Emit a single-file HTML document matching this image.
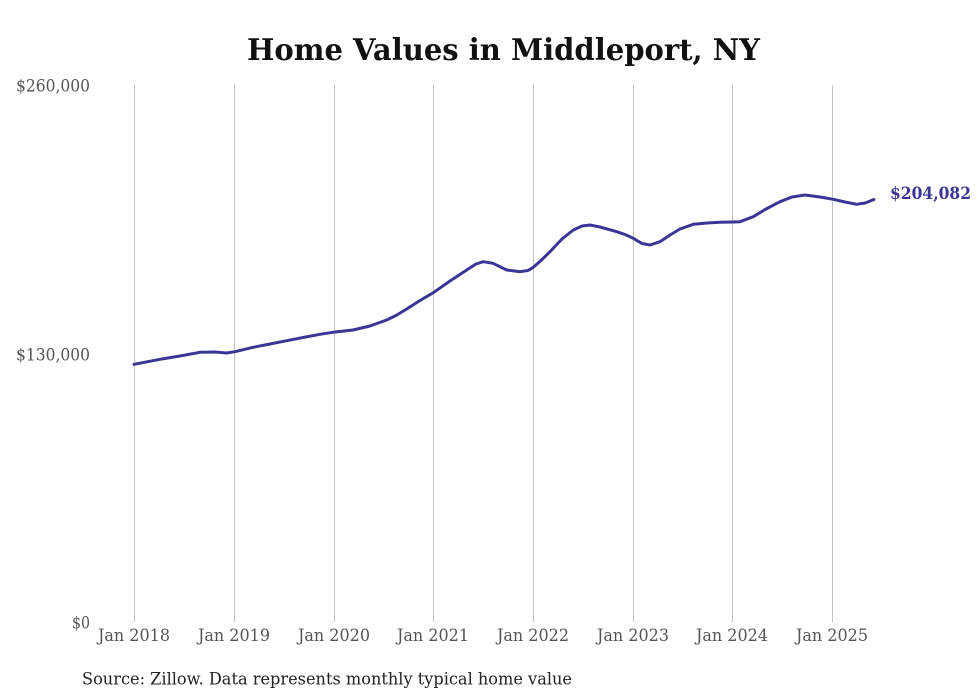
<!DOCTYPE html>
<html>
<head>
<meta charset="utf-8">
<style>
html,body{margin:0;padding:0;background:#fff;}
svg{display:block;}
text{font-family:"DejaVu Serif","Liberation Serif",serif;}
</style>
</head>
<body>
<svg width="980" height="699" viewBox="0 0 980 699" xmlns="http://www.w3.org/2000/svg">
  <rect width="980" height="699" fill="#fff"/>
  <text x="247" y="60" font-weight="bold" font-size="29.5" fill="#111" textLength="513" lengthAdjust="spacingAndGlyphs">Home Values in Middleport, NY</text>
  <g stroke="#c4c4c4" stroke-width="1">
    <line x1="134.5" y1="85" x2="134.5" y2="622"/>
    <line x1="234.5" y1="85" x2="234.5" y2="622"/>
    <line x1="334.5" y1="85" x2="334.5" y2="622"/>
    <line x1="433.5" y1="85" x2="433.5" y2="622"/>
    <line x1="533.5" y1="85" x2="533.5" y2="622"/>
    <line x1="633.5" y1="85" x2="633.5" y2="622"/>
    <line x1="732.5" y1="85" x2="732.5" y2="622"/>
    <line x1="832.5" y1="85" x2="832.5" y2="622"/>
  </g>
  <g font-size="17" fill="#555">
    <text x="16" y="91.5" textLength="74" lengthAdjust="spacingAndGlyphs">$260,000</text>
    <text x="16" y="360.5" textLength="74" lengthAdjust="spacingAndGlyphs">$130,000</text>
    <text x="72" y="628.5" textLength="18" lengthAdjust="spacingAndGlyphs">$0</text>
  </g>
  <g font-size="17" fill="#555">
    <text x="98" y="641" textLength="72" lengthAdjust="spacingAndGlyphs">Jan 2018</text>
    <text x="198" y="641" textLength="72" lengthAdjust="spacingAndGlyphs">Jan 2019</text>
    <text x="298" y="641" textLength="72" lengthAdjust="spacingAndGlyphs">Jan 2020</text>
    <text x="397" y="641" textLength="72" lengthAdjust="spacingAndGlyphs">Jan 2021</text>
    <text x="497" y="641" textLength="72" lengthAdjust="spacingAndGlyphs">Jan 2022</text>
    <text x="597" y="641" textLength="72" lengthAdjust="spacingAndGlyphs">Jan 2023</text>
    <text x="696" y="641" textLength="72" lengthAdjust="spacingAndGlyphs">Jan 2024</text>
    <text x="796" y="641" textLength="72" lengthAdjust="spacingAndGlyphs">Jan 2025</text>
  </g>
  <polyline fill="none" stroke="#3b3596" stroke-width="3" stroke-linejoin="round" stroke-linecap="round"
    points="134,364.3 147,361.8 160,359.3 180,356 200,352.3 215,352 226.7,353 235,351.7 253,347.3 270,344 286.7,340.7 303,337.5 320,334.3 333,332.3 353,330 370,326 386.7,320 396,315.5 406.7,309 420,300.5 433.3,292.7 450,281 466.7,270 476,264 483.3,261.7 493,263.3 506.7,270 520,271.7 528,270.5 533.3,267.3 541,260.5 550,251.7 562,239 573.3,230 582,226 590,225 600,227 616.7,231.7 625,234.5 633.3,238.3 642,243.5 650,245 660,241.7 670,235 680,229 693.3,224.3 707,223 720,222.3 733,222 740,221.7 753.3,216.7 766,209 780,201.7 792,197 805,195 820,197 833.3,199.3 845,202 856.7,204.3 865,203 874,199.5"/>
  <text x="890" y="199" font-weight="bold" font-size="16.5" fill="#3b3596" textLength="81" lengthAdjust="spacingAndGlyphs">$204,082</text>
  <text x="82" y="684.3" font-size="16.5" fill="#222" textLength="490" lengthAdjust="spacingAndGlyphs">Source: Zillow. Data represents monthly typical home value</text>
</svg>
</body>
</html>
